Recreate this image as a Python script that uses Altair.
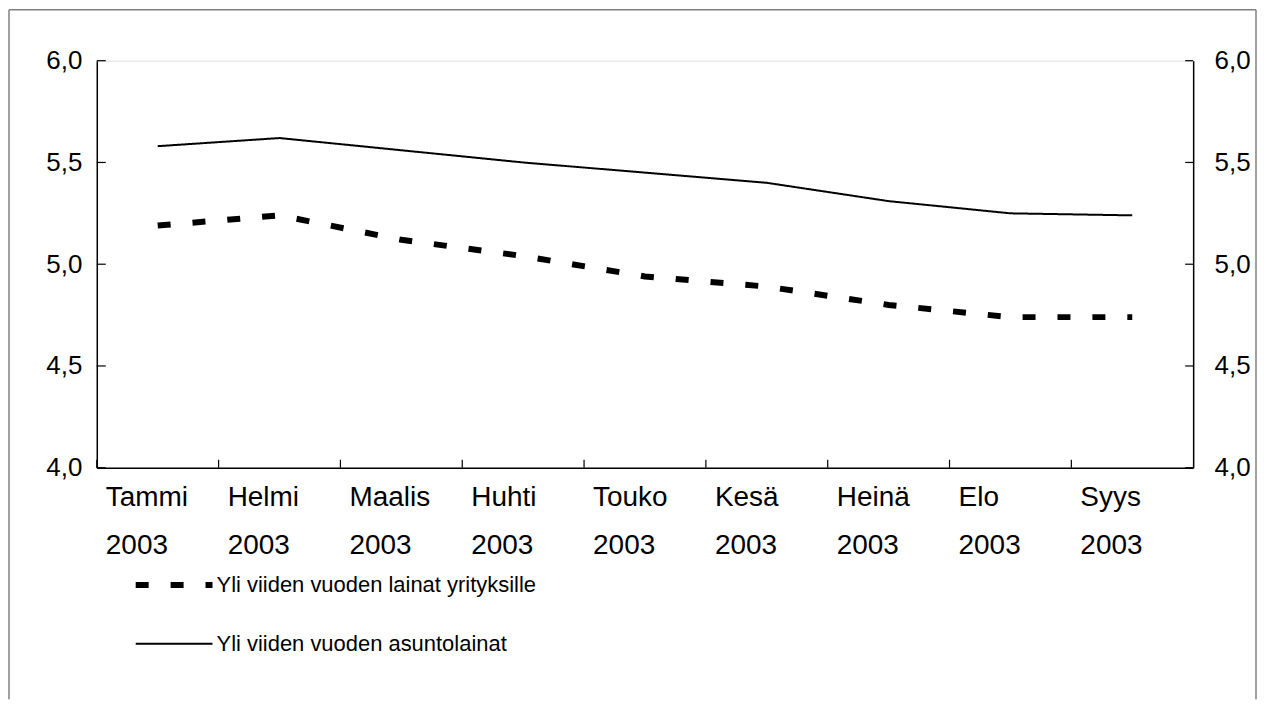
import altair as alt
import pandas as pd

MONTHS = ["Tammi 2003", "Helmi 2003", "Maalis 2003", "Huhti 2003", "Touko 2003",
          "Kesä 2003", "Heinä 2003", "Elo 2003", "Syys 2003"]
SERIES = ["Yli viiden vuoden lainat yrityksille", "Yli viiden vuoden asuntolainat"]
CORPORATE = [5.19, 5.24, 5.12, 5.04, 4.94, 4.89, 4.80, 4.74, 4.74]
HOUSING = [5.58, 5.62, 5.56, 5.50, 5.45, 5.40, 5.31, 5.25, 5.24]
Y_TICKS = [4.0, 4.5, 5.0, 5.5, 6.0]

W, H = 1099, 408
FONT = "Liberation Sans"

df = pd.DataFrame({
    "month": MONTHS * 2,
    "series": [SERIES[0]] * len(MONTHS) + [SERIES[1]] * len(MONTHS),
    "value": CORPORATE + HOUSING,
})
ticks_y = pd.DataFrame({"v": Y_TICKS})
ticks_x = pd.DataFrame({"m": MONTHS})
one = pd.DataFrame({"k": [0]})

x_scale = alt.Scale(type="band", domain=MONTHS, paddingInner=0, paddingOuter=0)
y_scale = alt.Scale(domain=[4, 6], nice=False, zero=False)
label_expr = "replace(format(datum.value, '.1f'), '.', ',')"

lines = alt.Chart(df).mark_line(color="black", strokeCap="butt").encode(
    x=alt.X("month:N", scale=x_scale, sort=MONTHS, bandPosition=0.5, axis=None),
    y=alt.Y("value:Q", scale=y_scale,
            axis=alt.Axis(title=None, values=Y_TICKS, labelExpr=label_expr, ticks=False,
                          labelFontSize=26, labelFont=FONT, labelColor="black",
                          labelPadding=15, domainColor="black", domainWidth=1.5, grid=False)),
    strokeDash=alt.StrokeDash("series:N", scale=alt.Scale(domain=SERIES, range=[[13, 22], [1, 0]]),
                              legend=alt.Legend(title=None, orient="none", legendX=36, legendY=484,
                                                symbolType="stroke", symbolSize=5929,
                                                symbolStrokeColor="black", labelFont=FONT,
                                                labelFontSize=22, labelColor="black",
                                                labelOffset=1, rowPadding=7, padding=0,
                                                labelLimit=0)),
    strokeWidth=alt.StrokeWidth("series:N", scale=alt.Scale(domain=SERIES, range=[6, 2]),
                                legend=None),
    order=alt.Order("month_idx:Q"),
).transform_calculate(
    month_idx="indexof(" + str(MONTHS).replace("'", '"') + ", datum.month)"
)

left_ticks = alt.Chart(ticks_y).mark_rule(color="black", strokeWidth=1.2).encode(
    y=alt.Y("v:Q", scale=y_scale, axis=None),
    x=alt.value(0), x2=alt.value(9),
)
right_ticks = alt.Chart(ticks_y).mark_rule(color="black", strokeWidth=1.2).encode(
    y=alt.Y("v:Q", scale=y_scale,
            axis=alt.Axis(title=None, orient="right", values=Y_TICKS, labelExpr=label_expr,
                          ticks=False, labelFontSize=26, labelFont=FONT, labelColor="black",
                          labelPadding=21, domainColor="black", domainWidth=1.5, grid=False)),
    x=alt.value(W - 8), x2=alt.value(W),
)
bottom_ticks = alt.Chart(ticks_x).mark_rule(color="black", strokeWidth=1.2).encode(
    x=alt.X("m:N", scale=x_scale, sort=MONTHS, bandPosition=0,
            axis=alt.Axis(title=None, labelAlign="left", labelOffset=-52,
                          labelExpr="split(datum.label, ' ')", labelLineHeight=48,
                          labelFontSize=28, labelFont=FONT, labelColor="black",
                          labelBaseline="top", labelPadding=16, ticks=False,
                          domainColor="black", domainWidth=1.5, labelAngle=0,
                          labelOverlap=False, labelLimit=0)),
    y=alt.value(H - 8), y2=alt.value(H),
)

frame_color = "#808080"
frame_left = alt.Chart(one).mark_rule(color=frame_color, strokeWidth=1.5).encode(
    x=alt.value(-88), y=alt.value(-51), y2=alt.value(640))
frame_right = alt.Chart(one).mark_rule(color=frame_color, strokeWidth=1.5).encode(
    x=alt.value(1162), y=alt.value(-51), y2=alt.value(640))
frame_top = alt.Chart(one).mark_rule(color=frame_color, strokeWidth=1.5).encode(
    x=alt.value(-88), x2=alt.value(1162), y=alt.value(-51))

chart = alt.layer(
    frame_left, frame_right, frame_top, lines, left_ticks, right_ticks, bottom_ticks
).resolve_axis(y="independent", x="independent").properties(
    width=W, height=H, padding=0,
).configure_view(
    stroke="#999999", strokeWidth=1.5,
).configure(background="white")

chart.save("out.html", embed_options={"renderer": "svg", "actions": False})
